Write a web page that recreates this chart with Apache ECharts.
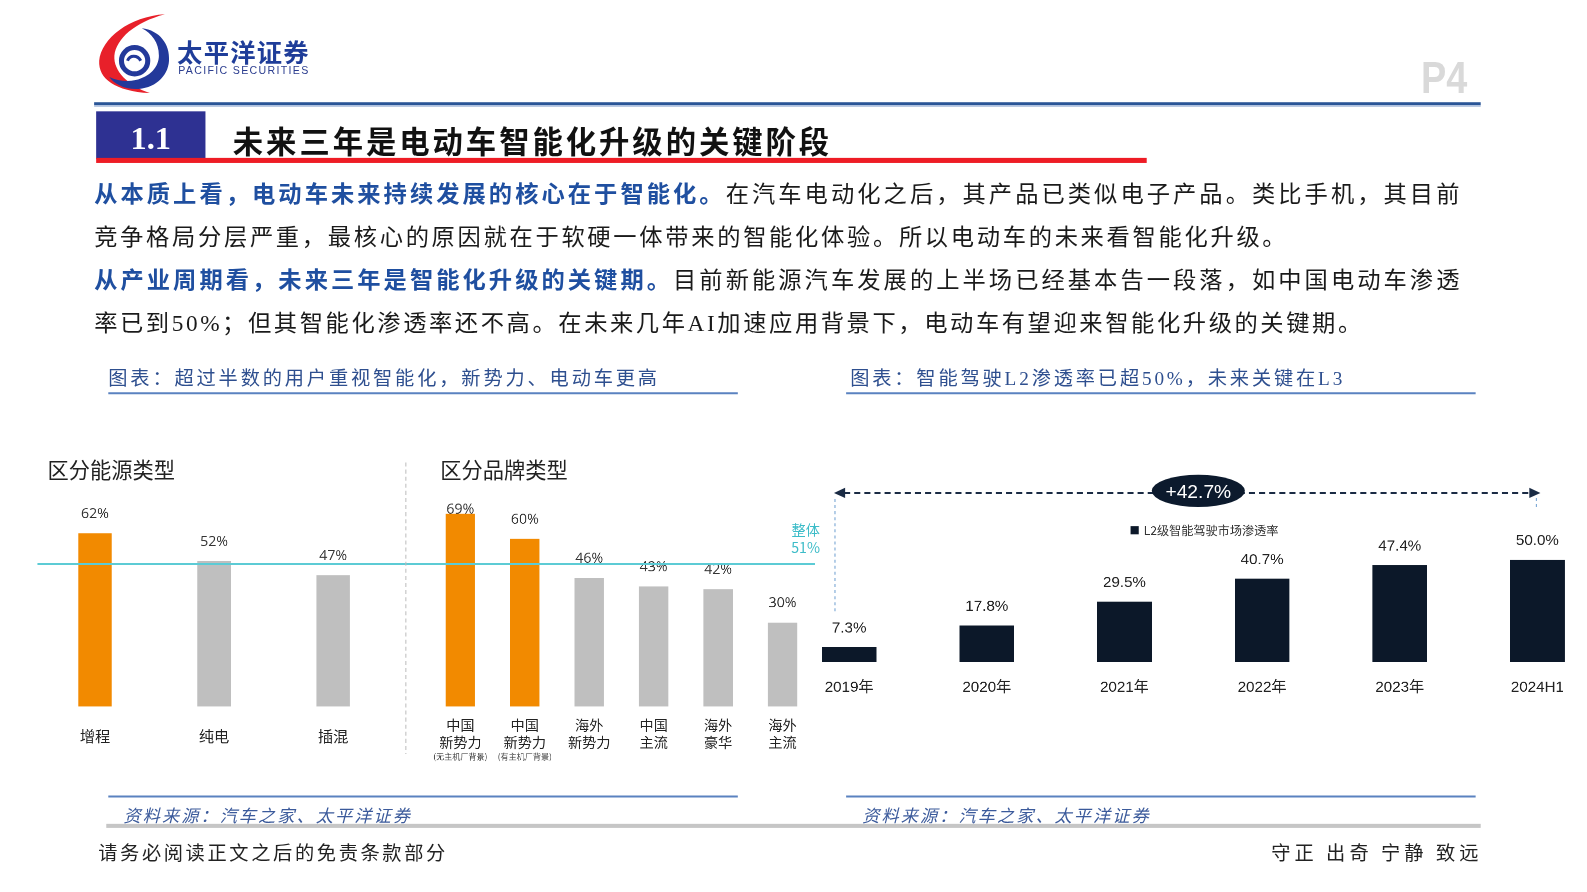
<!DOCTYPE html>
<html><head><meta charset="utf-8">
<title>P4</title>
<script src="https://cdn.jsdelivr.net/npm/echarts/dist/echarts.min.js"></script>
<style>
html,body{margin:0;padding:0;background:#fff;width:1587px;height:892px;overflow:hidden;}
#page{position:relative;width:1587px;height:892px;overflow:hidden;background:#fff;transform:scale(1.0121);transform-origin:0 0;}
#chart{position:absolute;left:0;top:0;width:1587px;height:892px;}
svg.deco{position:absolute;left:0;top:0;pointer-events:none;}
.t{position:absolute;white-space:nowrap;pointer-events:none;}
.body{font-family:"Liberation Serif","Noto Sans CJK SC",serif;font-size:23px;letter-spacing:2.8px;color:#1a1a1a;height:40px;line-height:40px;left:93px;}
.b{color:#1f4fa0;font-weight:700;}
.cap{font-family:"Liberation Serif","Noto Sans CJK SC",serif;font-size:19px;letter-spacing:2.8px;color:#2e4f8f;height:24px;line-height:24px;top:362px;}
.src{font-family:"Noto Sans CJK SC",serif;font-size:17px;letter-spacing:2px;color:#3b5a9b;font-style:italic;height:22px;line-height:22px;top:794px;}
.foot{font-family:"Noto Sans CJK SC",serif;font-size:19px;letter-spacing:2.6px;color:#222;height:24px;line-height:24px;top:830px;}
.ctitle{font-family:"Noto Sans CJK SC",sans-serif;font-size:21px;color:#222;height:26px;line-height:26px;top:450px;}
</style>
</head>
<body>
<div id="page">
<div id="chart"></div>
<svg class="deco" width="1587" height="892" viewBox="0 0 1587 892">
  <!-- logo -->
  <path d="M163,14 C128,16 100,38 98,60 C97,78 114,90 148,92 C126,84 112,70 113,55 C115,38 133,22 163,14 Z" fill="#e8202a"/>
  <path d="M140,28 C158,30 168,44 167,60 C166,76 152,88 134,88 C122,88 112,82 108,76 C116,80 126,81 134,79 C148,76 157,66 157,55 C157,42 150,33 140,28 Z" fill="#23399a"/>
  <circle cx="133" cy="60" r="13" fill="none" stroke="#23399a" stroke-width="5"/>
  <path d="M126,60 C128,54 136,54 139,60" fill="none" stroke="#23399a" stroke-width="3"/>
  <!-- header lines -->
  <rect x="93" y="101" width="1370" height="3" fill="#2a5597"/>
  <rect x="93" y="104" width="1370" height="1.5" fill="#a8bcdc"/>
  <rect x="95" y="110" width="108" height="47" fill="#2e3192"/>
  <rect x="95" y="156" width="1038" height="5" fill="#ee1c25"/>
  <!-- caption underlines -->
  <line x1="107" y1="388.5" x2="729" y2="388.5" stroke="#5a82c0" stroke-width="2"/>
  <line x1="836" y1="388.5" x2="1458" y2="388.5" stroke="#5a82c0" stroke-width="2"/>
  <!-- source lines -->
  <line x1="107" y1="787" x2="729" y2="787" stroke="#5a82c0" stroke-width="2"/>
  <line x1="836" y1="787" x2="1458" y2="787" stroke="#5a82c0" stroke-width="2"/>
  <rect x="105" y="814" width="1358" height="4" fill="#c6c6c6"/>
  <!-- separator -->
  <line x1="401" y1="457" x2="401" y2="745" stroke="#bdbdbd" stroke-width="1" stroke-dasharray="4 3"/>
  <!-- L2 annotation -->
  <line x1="825" y1="493" x2="825" y2="605" stroke="#6f9fd0" stroke-width="1" stroke-dasharray="3 3"/>
  <line x1="1518" y1="492" x2="1518" y2="503" stroke="#6f9fd0" stroke-width="1" stroke-dasharray="3 3"/>
  <line x1="834" y1="487" x2="1512" y2="487" stroke="#1a2b44" stroke-width="2" stroke-dasharray="6 4"/>
  <polygon points="824,487 835,482 835,492" fill="#1a2b44"/>
  <polygon points="1522,487 1511,482 1511,492" fill="#1a2b44"/>
  <ellipse cx="1184" cy="485" rx="46" ry="16" fill="#0c1a2d"/>
  <text x="1184" y="492" fill="#fff" font-family="Liberation Sans, sans-serif" font-size="19" text-anchor="middle">+42.7%</text>
</svg>

<div class="t" style="left:175px;top:36px;height:28px;line-height:28px;font-family:'Noto Sans CJK SC',sans-serif;font-weight:700;font-size:25px;letter-spacing:1.2px;color:#1f3d99;">太平洋证券</div>
<div class="t" style="left:176px;top:62px;height:14px;line-height:14px;font-family:'Liberation Sans',sans-serif;font-size:10.5px;letter-spacing:1.3px;color:#2b3d8f;">PACIFIC SECURITIES</div>
<div class="t" style="left:1404px;top:52px;height:50px;line-height:50px;font-family:'Liberation Sans',sans-serif;font-weight:700;font-size:44px;color:#d9d9d9;transform:scaleX(0.85);transform-origin:left center;">P4</div>

<div class="t" style="left:95px;top:116px;width:108px;text-align:center;height:40px;line-height:40px;font-family:'Liberation Serif',serif;font-weight:700;font-size:32px;color:#fff;">1.1</div>
<div class="t" style="left:230px;top:118px;height:40px;line-height:40px;font-family:'Noto Sans CJK SC',sans-serif;font-weight:700;font-size:30px;letter-spacing:2.9px;color:#111;">未来三年是电动车智能化升级的关键阶段</div>

<div class="t body" style="top:173px;letter-spacing:3px;"><span class="b">从本质上看，电动车未来持续发展的核心在于智能化。</span>在汽车电动化之后，其产品已类似电子产品。类比手机，其目前</div>
<div class="t body" style="top:215px;letter-spacing:2.65px;">竞争格局分层严重，最核心的原因就在于软硬一体带来的智能化体验。所以电动车的未来看智能化升级。</div>
<div class="t body" style="top:258px;letter-spacing:3px;"><span class="b">从产业周期看，未来三年是智能化升级的关键期。</span>目前新能源汽车发展的上半场已经基本告一段落，如中国电动车渗透</div>
<div class="t body" style="top:300px;letter-spacing:2.55px;">率已到50%；但其智能化渗透率还不高。在未来几年AI加速应用背景下，电动车有望迎来智能化升级的关键期。</div>

<div class="t cap" style="left:107px;">图表：超过半数的用户重视智能化，新势力、电动车更高</div>
<div class="t cap" style="left:840px;">图表：智能驾驶L2渗透率已超50%，未来关键在L3</div>

<div class="t ctitle" style="left:47px;">区分能源类型</div>
<div class="t ctitle" style="left:435px;">区分品牌类型</div>
<div class="t" style="left:776px;top:515px;width:40px;text-align:center;font-family:'Noto Sans CJK SC',sans-serif;font-size:14px;line-height:17px;color:#3cbcc8;">整体<br>51%</div>

<div class="t src" style="left:122px;">资料来源：汽车之家、太平洋证券</div>
<div class="t src" style="left:852px;">资料来源：汽车之家、太平洋证券</div>
<div class="t foot" style="left:97px;">请务必阅读正文之后的免责条款部分</div>
<div class="t foot" style="left:1256px;letter-spacing:4px;">守正 出奇 宁静 致远</div>
</div>

<script>
// ---- data ----
const energyCategories = ['增程', '纯电', '插混'];
const energyValues = [62, 52, 47];
const brandCategories = ['中国\n新势力\n(无主机厂背景)', '中国\n新势力\n(有主机厂背景)', '海外\n新势力', '中国\n主流', '海外\n豪华', '海外\n主流'];
const brandValues = [69, 60, 46, 43, 42, 30];
const overallValue = 51;
const l2Categories = ['2019年', '2020年', '2021年', '2022年', '2023年', '2024H1'];
const l2Values = [7.3, 17.8, 29.5, 40.7, 47.4, 50.0];
const l2SeriesName = 'L2级智能驾驶市场渗透率';

// ---- chart ----
const ORANGE = '#f28a00', GRAY = '#bfbfbf', NAVY = '#0c1829', TEAL = '#5ccbd5';
const chart = echarts.init(document.getElementById('chart'), null, {renderer: 'canvas', devicePixelRatio: 2});
const numFont = '"Open Sans","Noto Sans CJK SC",sans-serif';
const cjkFont = '"Noto Sans CJK SC",sans-serif';
const hiddenY = (g, max) => ({gridIndex: g, type: 'value', min: 0, max: max, show: false});
const catAxis = (g, data, extra) => Object.assign({
  gridIndex: g, type: 'category', data: data,
  axisLine: {show: false}, axisTick: {show: false}, splitLine: {show: false}
}, extra);

const option = {
  animation: false,
  legend: {
    data: [l2SeriesName], left: 1112, top: 513, icon: 'rect', itemWidth: 8, itemHeight: 8,
    textStyle: {fontSize: 12, color: '#333', fontFamily: cjkFont}
  },
  grid: [
    {left: 37, width: 768, top: 422, height: 276},
    {left: 35, width: 353, top: 422, height: 276},
    {left: 423, width: 382, top: 422, height: 276},
    {left: 771, width: 817, top: 452, height: 202}
  ],
  xAxis: [
    {gridIndex: 0, type: 'value', min: 0, max: 1, show: false},
    catAxis(1, energyCategories, {axisLabel: {margin: 22, fontSize: 15, color: '#222', fontFamily: cjkFont}}),
    catAxis(2, brandCategories, {axisLabel: {
      margin: 10, interval: 0, color: '#222', fontFamily: cjkFont,
      formatter: function (v) {
        return v.split('\n').map((s, i) => i < 2 ? '{m|' + s + '}' : '{s|' + s + '}').join('\n');
      },
      rich: {
        m: {fontSize: 14, lineHeight: 17, color: '#222', fontFamily: cjkFont},
        s: {fontSize: 8, lineHeight: 11, color: '#444', fontFamily: cjkFont}
      }
    }}),
    catAxis(3, l2Categories, {axisLabel: {margin: 18, fontSize: 15, color: '#222', fontFamily: '"Liberation Sans","Noto Sans CJK SC",sans-serif'}})
  ],
  yAxis: [hiddenY(0, 100), hiddenY(1, 100), hiddenY(2, 100), hiddenY(3, 100)],
  series: [
    {
      type: 'bar', xAxisIndex: 1, yAxisIndex: 1, barWidth: 33,
      data: energyValues.map((v, i) => ({value: v, itemStyle: {color: i < 1 ? ORANGE : GRAY}})),
      label: {show: true, position: 'top', distance: 12, formatter: '{c}%', fontSize: 14, color: '#333', fontFamily: numFont}
    },
    {
      type: 'bar', xAxisIndex: 2, yAxisIndex: 2, barWidth: 29,
      data: brandValues.map((v, i) => {
        const d = {value: v, itemStyle: {color: i < 2 ? ORANGE : GRAY}};
        if (i === 0) d.label = {distance: -3};
        return d;
      }),
      label: {show: true, position: 'top', distance: 12, formatter: '{c}%', fontSize: 14, color: '#333', fontFamily: numFont}
    },
    {
      type: 'line', xAxisIndex: 0, yAxisIndex: 0, z: 5, silent: true,
      data: [[0, overallValue], [1, overallValue]], symbol: 'none',
      lineStyle: {color: TEAL, width: 1.5}
    },
    {
      name: l2SeriesName, type: 'bar', xAxisIndex: 3, yAxisIndex: 3, barWidth: 54,
      data: l2Values, itemStyle: {color: NAVY},
      label: {show: true, position: 'top', distance: 11, fontSize: 15, color: '#222',
        fontFamily: '"Liberation Sans",sans-serif',
        formatter: p => p.value.toFixed(1) + '%'}
    }
  ]
};
chart.setOption(option);
</script>
</body></html>
